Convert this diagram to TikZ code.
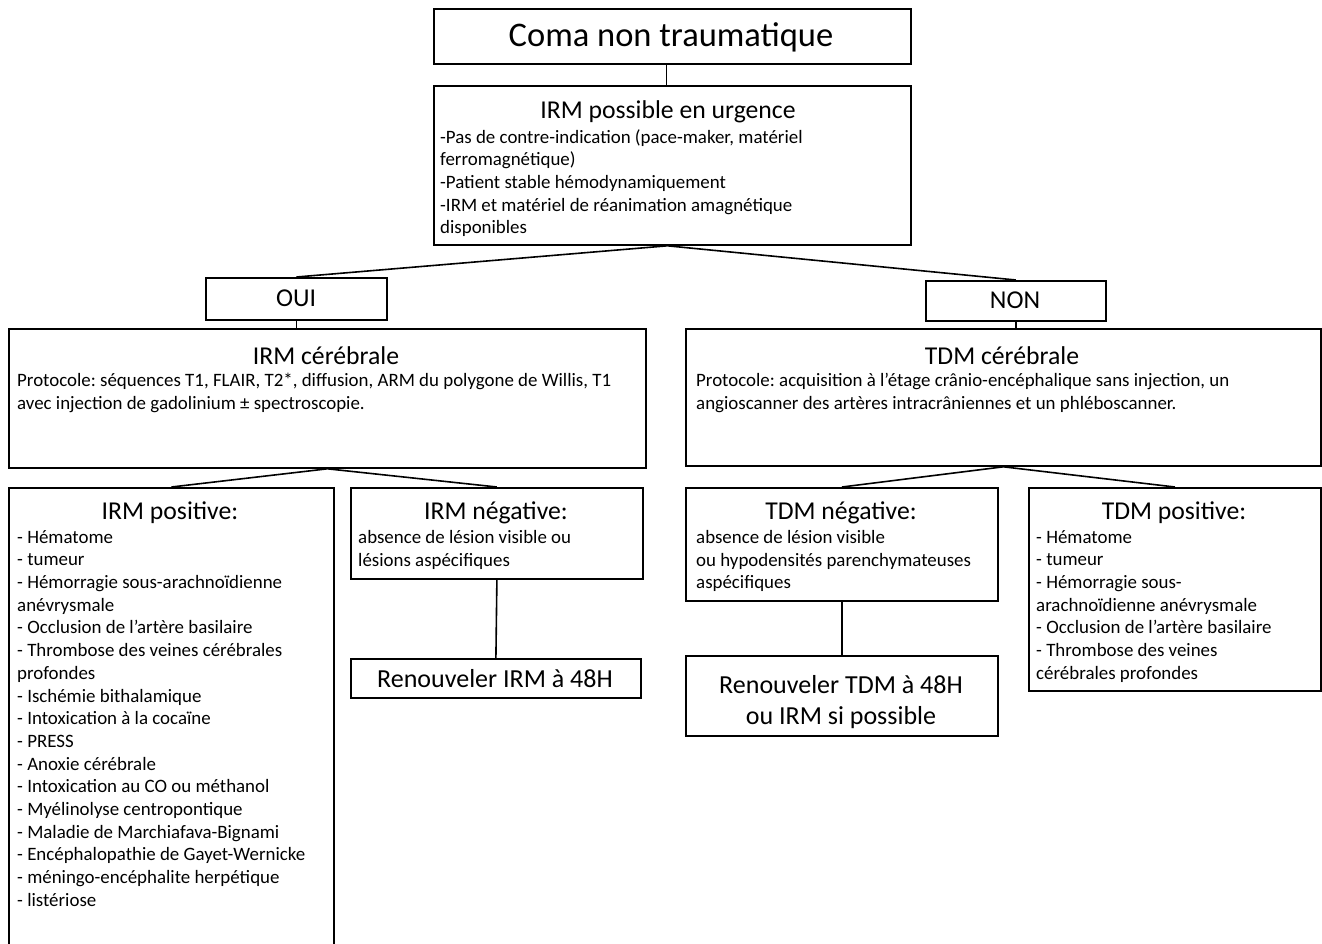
\documentclass[tikz,border=0pt]{standalone}
\usepackage{fontspec}
\setmainfont{Carlito}
\usetikzlibrary{calc}
\frenchspacing
\begin{document}
\begin{tikzpicture}[x=1pt,y=-1pt,
  box/.style={draw, line width=1.8pt, inner sep=0pt, anchor=north west},
  conn/.style={draw, line width=1.6pt},
  bigt/.style={inner sep=0pt, font=\fontsize{34.5pt}{40pt}\selectfont},
  ttl/.style={inner sep=0pt, font=\fontsize{25.7pt}{30pt}\selectfont},
  rent/.style={inner sep=0pt, align=center, font=\fontsize{26pt}{31pt}\selectfont},
  bodyt/.style={inner sep=0pt, anchor=north west, align=left, font=\fontsize{18.9pt}{22.7pt}\selectfont}]
\useasboundingbox (0,0) rectangle (1322,943);
% boxes
\node[box, minimum width=477pt, minimum height=55pt] (coma) at (433,8) {};
\node[box, minimum width=477pt, minimum height=159pt] (irmp) at (433,85) {};
\node[box, minimum width=181pt, minimum height=42pt] (oui) at (205,277) {};
\node[box, minimum width=180pt, minimum height=40pt] (non) at (925,280) {};
\node[box, minimum width=637pt, minimum height=139pt] (irmc) at (8,328) {};
\node[box, minimum width=635pt, minimum height=137pt] (tdmc) at (685,328) {};
\node[box, minimum width=325pt, minimum height=480pt] (irmpos) at (8,487) {};
\node[box, minimum width=292pt, minimum height=91pt] (irmneg) at (350,487) {};
\node[box, minimum width=290pt, minimum height=39pt] (renirm) at (350,658) {};
\node[box, minimum width=312pt, minimum height=113pt] (tdmneg) at (685,487) {};
\node[box, minimum width=312pt, minimum height=80pt] (rentdm) at (685,655) {};
\node[box, minimum width=292pt, minimum height=203pt] (tdmpos) at (1028,487) {};
% texts
\node[bigt] (tcoma) at (671,37) {Coma non traumatique};
\node[ttl] (tirmp) at (668,112) {IRM possible en urgence};
\node[bodyt] (birmp) at (440,129) {-Pas de contre-indication (pace-maker, matériel\\ferromagnétique)\\-Patient stable hémodynamiquement\\-IRM et matériel de réanimation amagnétique\\disponibles};
\node[ttl] (toui) at (296,298) {OUI};
\node[ttl] (tnon) at (1015,300) {NON};
\node[ttl] (tirmc) at (326,356) {IRM cérébrale};
\node[bodyt] (birmc) at (17,373) {Protocole: séquences T1, FLAIR, T2*, diffusion, ARM du polygone de Willis, T1\\avec injection de gadolinium ± spectroscopie.};
\node[ttl] (ttdmc) at (1002,356) {TDM cérébrale};
\node[bodyt] (btdmc) at (696,373) {Protocole: acquisition à l’étage crânio-encéphalique sans injection, un\\angioscanner des artères intracrâniennes et un phléboscanner.};
\node[ttl] (tirmpos) at (170,513) {IRM positive:};
\node[bodyt] (birmpos) at (17,530) {- Hématome\\- tumeur\\- Hémorragie sous-arachnoïdienne\\anévrysmale\\- Occlusion de l’artère basilaire\\- Thrombose des veines cérébrales\\profondes\\- Ischémie bithalamique\\- Intoxication à la cocaïne\\- PRESS\\- Anoxie cérébrale\\- Intoxication au CO ou méthanol\\- Myélinolyse centropontique\\- Maladie de Marchiafava-Bignami\\- Encéphalopathie de Gayet-Wernicke\\- méningo-encéphalite herpétique\\- listériose};
\node[ttl] (tirmneg) at (496,513) {IRM négative:};
\node[bodyt] (birmneg) at (358,530) {absence de lésion visible ou\\lésions aspécifiques};
\node[rent] (trenirm) at (495,679) {Renouveler IRM à 48H};
\node[ttl] (ttdmneg) at (841,513) {TDM négative:};
\node[bodyt] (btdmneg) at (696,530) {absence de lésion visible\\ou hypodensités parenchymateuses\\aspécifiques};
\node[rent] (trentdm) at (841,702) {Renouveler TDM à 48H\\ou IRM si possible};
\node[ttl] (ttdmpos) at (1174,513) {TDM positive:};
\node[bodyt] (btdmpos) at (1036,530) {- Hématome\\- tumeur\\- Hémorragie sous-\\arachnoïdienne anévrysmale\\- Occlusion de l’artère basilaire\\- Thrombose des veines\\cérébrales profondes};
% connectors
\draw[conn] ($(coma.south)+(-6,0)$) -- ($(irmp.north)+(-6,0)$);
\draw[conn] ($(irmp.south)+(-5,0)$) -- (oui.north);
\draw[conn] ($(irmp.south)+(-5,0)$) -- (non.north);
\draw[conn] (oui.south) -- (oui.south |- irmc.north);
\draw[conn] (non.south) -- (non.south |- tdmc.north);
\draw[conn] (irmc.south) -- (irmpos.north);
\draw[conn] (irmc.south) -- (irmneg.north);
\draw[conn] (tdmc.south) -- (tdmneg.north);
\draw[conn] (tdmc.south) -- (tdmpos.north);
\draw[conn] (irmneg.south) -- (renirm.north);
\draw[conn] (tdmneg.south) -- (rentdm.north);
\end{tikzpicture}
\end{document}
